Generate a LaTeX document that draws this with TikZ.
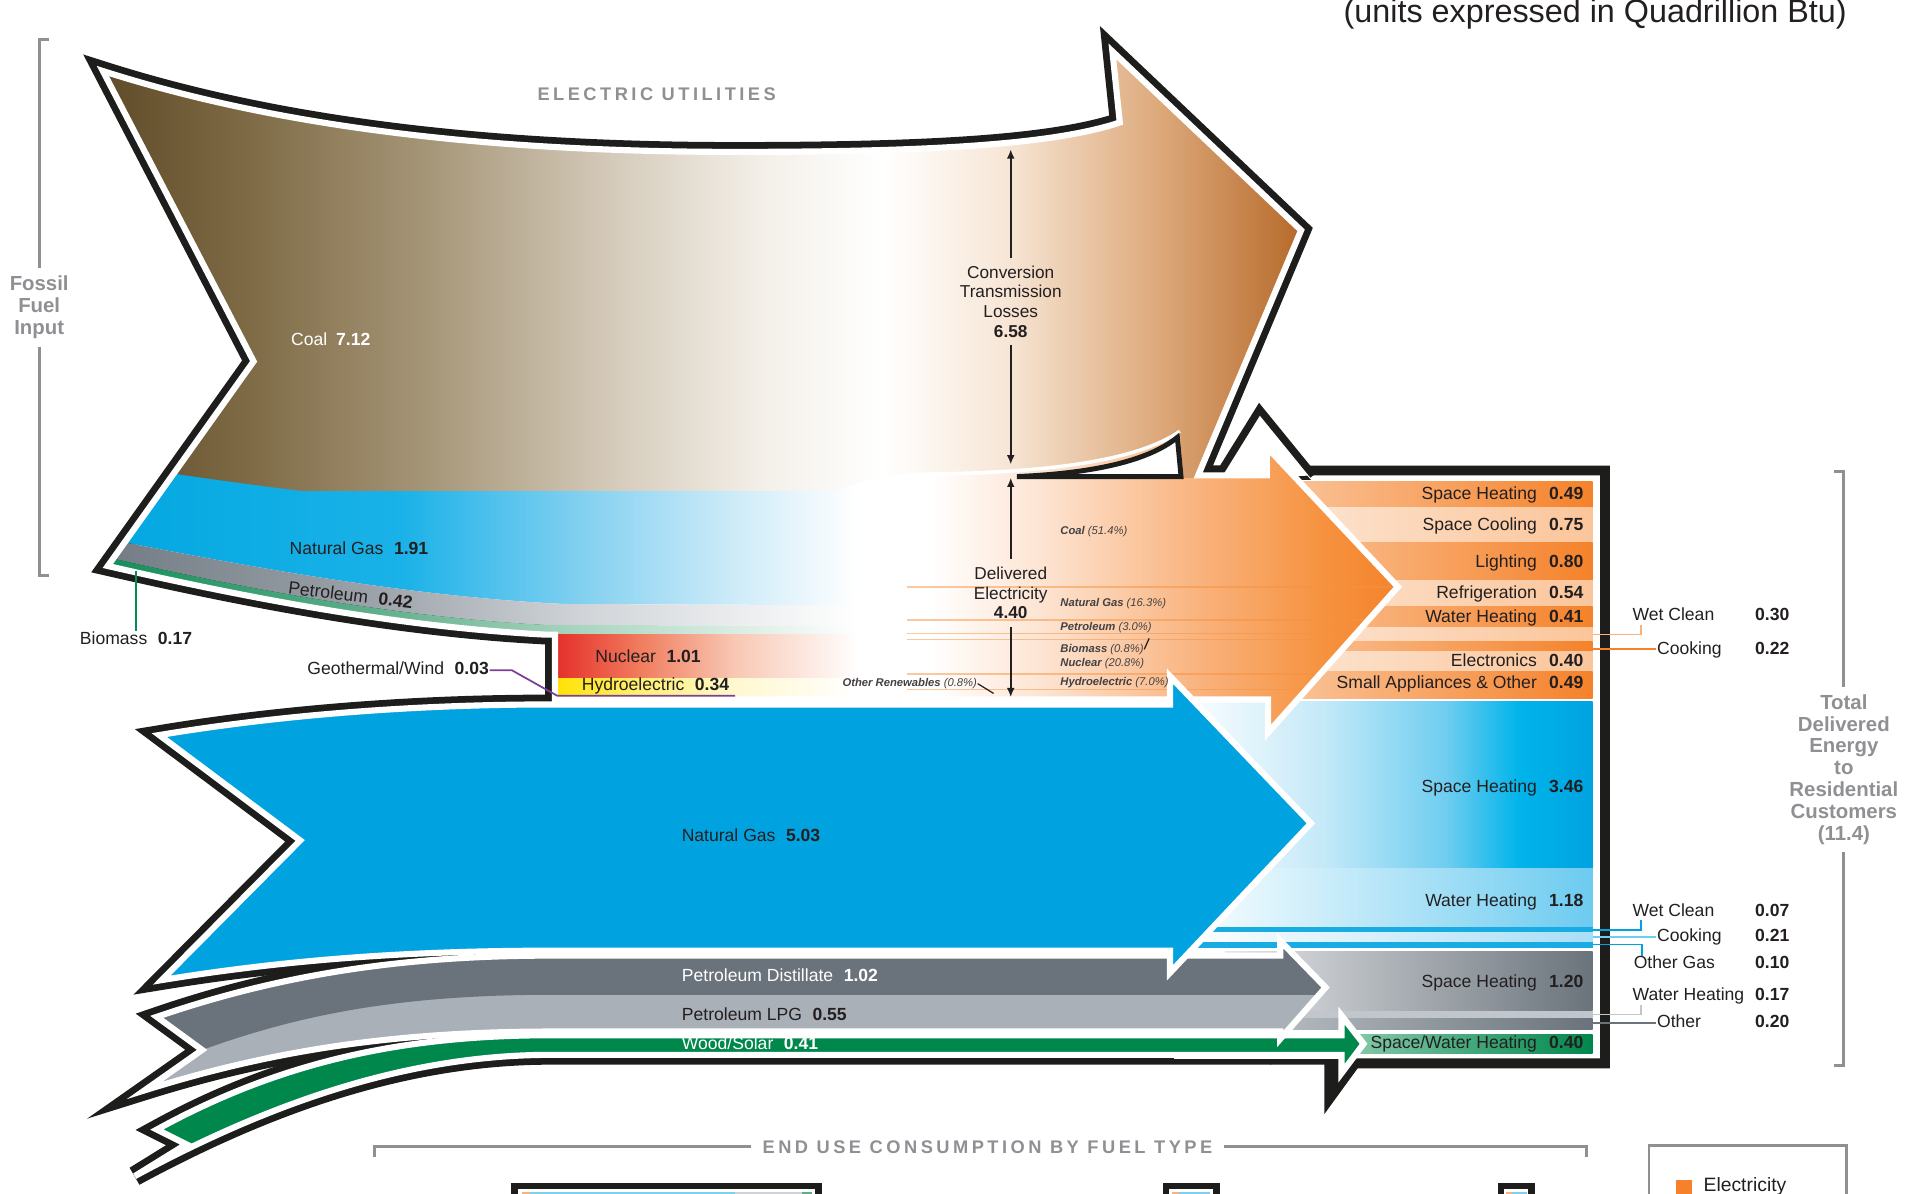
\documentclass[tikz,border=0pt]{standalone}
\usepackage{fontspec}
\setmainfont{Liberation Sans}
\newfontfamily\trackedsans[LetterSpace=19]{Liberation Sans}
\usetikzlibrary{arrows.meta}

\definecolor{ink}{HTML}{231F20}
\definecolor{rulegray}{HTML}{8E9093}
\definecolor{outline}{HTML}{1D1D1B}
\definecolor{coalA}{HTML}{5A4522}
\definecolor{coalB}{HTML}{7E6A45}
\definecolor{coalC}{HTML}{A69678}
\definecolor{coalD}{HTML}{D5CBBB}
\definecolor{coalE}{HTML}{F3EFE8}
\definecolor{coalF}{HTML}{F7E6D6}
\definecolor{coalG}{HTML}{DCA778}
\definecolor{coalH}{HTML}{B0601E}
\definecolor{gasA}{HTML}{00A6E0}
\definecolor{gasB}{HTML}{1AB2E8}
\definecolor{gasC}{HTML}{7FCFF0}
\definecolor{gasD}{HTML}{CDEBF8}
\definecolor{petA}{HTML}{6E7780}
\definecolor{petB}{HTML}{9BA2A9}
\definecolor{petC}{HTML}{CFD3D7}
\definecolor{bioA}{HTML}{0A8A55}
\definecolor{bioB}{HTML}{5FAE8A}
\definecolor{bioC}{HTML}{A8D4BF}
\definecolor{elcA}{HTML}{FDE4D2}
\definecolor{elcB}{HTML}{F9B27C}
\definecolor{elcC}{HTML}{F6923F}
\definecolor{elcD}{HTML}{F5822A}
\definecolor{nucA}{HTML}{E52E2A}
\definecolor{nucB}{HTML}{F07A5C}
\definecolor{nucC}{HTML}{F8C8B4}
\definecolor{hydA}{HTML}{FFE100}
\definecolor{hydB}{HTML}{FFF070}
\definecolor{hydC}{HTML}{FFF8D0}
\definecolor{skyA}{HTML}{C5E9F8}
\definecolor{skyB}{HTML}{6FCDF0}
\definecolor{skyC}{HTML}{00B4EA}
\definecolor{skyD}{HTML}{6CCBF0}
\definecolor{skyE}{HTML}{A9DEF5}
\definecolor{gasbig}{HTML}{00A3E0}
\definecolor{distil}{HTML}{6A737B}
\definecolor{lpg}{HTML}{A9B0B7}
\definecolor{grayL}{HTML}{E4E6E9}
\definecolor{grayM}{HTML}{C0C6CB}
\definecolor{wood}{HTML}{00874C}
\definecolor{woodL}{HTML}{8FCDB0}
\definecolor{colDL}{HTML}{FBD0AE}
\definecolor{colLL}{HTML}{FDEBDC}
\definecolor{colLR}{HTML}{FBC59A}
\definecolor{geo}{HTML}{7B3F98}

\pgfdeclarehorizontalshading{coalshade}{100bp}{color(0bp)=(coalA); color(25bp)=(coalA); color(31.9bp)=(coalB); color(39.2bp)=(coalC); color(46.6bp)=(coalD); color(52.5bp)=(coalE); color(57.4bp)=(white); color(62.3bp)=(coalF); color(68.6bp)=(coalG); color(75bp)=(coalH); color(100bp)=(coalH)}
\pgfdeclarehorizontalshading{gasshade}{100bp}{color(0bp)=(gasA); color(25bp)=(gasA); color(46bp)=(gasB); color(57bp)=(gasC); color(67bp)=(gasD); color(75bp)=(white); color(100bp)=(white)}
\pgfdeclarehorizontalshading{petshade}{100bp}{color(0bp)=(petA); color(25bp)=(petA); color(44bp)=(petB); color(57bp)=(petC); color(75bp)=(white); color(100bp)=(white)}
\pgfdeclarehorizontalshading{bioshade}{100bp}{color(0bp)=(bioA); color(25bp)=(bioA); color(44bp)=(bioB); color(57bp)=(bioC); color(75bp)=(white); color(100bp)=(white)}
\pgfdeclarehorizontalshading{elcshade}{100bp}{color(0bp)=(white); color(25bp)=(white); color(31.7bp)=(white); color(41.9bp)=(elcA); color(56.5bp)=(elcB); color(67.7bp)=(elcC); color(75bp)=(elcD); color(100bp)=(elcD)}
\pgfdeclarehorizontalshading{nucshade}{100bp}{color(0bp)=(nucA); color(25bp)=(nucA); color(38.6bp)=(nucB); color(54.8bp)=(nucC); color(75bp)=(white); color(100bp)=(white)}
\pgfdeclarehorizontalshading{hydshade}{100bp}{color(0bp)=(hydA); color(25bp)=(hydA); color(38.6bp)=(hydB); color(54.8bp)=(hydC); color(75bp)=(white); color(100bp)=(white)}
\pgfdeclarehorizontalshading{sheatshade}{100bp}{color(0bp)=(white); color(25bp)=(white); color(42.6bp)=(skyA); color(57.4bp)=(skyB); color(66.2bp)=(skyC); color(75bp)=(gasbig); color(100bp)=(gasbig)}

\tikzset{
  lbl/.style={font=\fontsize{5}{6}\selectfont, text=ink, inner sep=0pt, text height=3.6pt, text depth=0.9pt},
  uselbl/.style={lbl, anchor=east},
  sidelbl/.style={lbl, anchor=west},
  share/.style={font=\fontsize{3.2}{3.6}\selectfont\itshape, text=ink!85, inner sep=0pt, anchor=west},
  midtext/.style={font=\fontsize{4.9}{5.6}\selectfont, text=ink, align=center, inner sep=2pt},
  sidehead/.style={font=\fontsize{5.8}{6.2}\selectfont\bfseries, text=rulegray, align=center, inner sep=2pt},
  tracked/.style={font=\fontsize{5.2}{6}\selectfont\trackedsans\bfseries, text=rulegray, inner sep=3pt},
  bracket/.style={draw=rulegray, line width=0.8pt},
  blackline/.style={draw=outline, line width=5.6pt, line join=miter},
  whiteline/.style={draw=white, line width=1.75pt, line join=miter},
  leader/.style={line width=0.5pt},
  measure/.style={draw=ink, line width=0.45pt, -{Latex[length=2.6pt,width=2.2pt]}},
  share line/.style={elcC, opacity=0.5, line width=0.42pt},
  ordark/.style={left color=colDL, right color=elcD},
  orlight/.style={left color=colLL, right color=colLR},
}

\begin{document}
\begin{tikzpicture}[x=0.01225cm, y=-0.01225cm]
  \useasboundingbox (0,0) rectangle (1568,974);

  \def\upath{(84,58) .. controls (200,95) and (360,124) .. (600,124) .. controls (760,124) and (860,118) .. (914,100) -- (908,42) -- (1062,188) -- (978,388) -- (1034,388) -- (1034,365) -- (1141,479) -- (1035,598) -- (1035,571) -- (453,571) -- (453,518) -- (445,518) .. controls (330,512) and (210,490) .. (88,462) -- (207,295) -- cycle}
  \def\bpath{(130,600) .. controls (220,585) and (330,575) .. (450,575) -- (955,575) -- (955,552) -- (1070,672) -- (955,794) -- (955,776) -- (450,776) .. controls (330,776) and (230,784) .. (132,800) -- (245,686) -- cycle}
  \def\gpath{(128,830) .. controls (230,795) and (330,780) .. (450,780) -- (1045,780) -- (1045,768) -- (1082,806) -- (1045,848) -- (1045,842) -- (450,842) .. controls (320,842) and (220,858) .. (118,890) -- (165,857) -- cycle}
  \def\wpath{(128,922) .. controls (230,866) and (330,845) .. (450,845) -- (1095,845) -- (1095,829) -- (1113,852) -- (1095,876) -- (1095,861) -- (450,861) .. controls (340,861) and (230,895) .. (110,960) -- (152,934) -- cycle}

  % outlines
  \draw[blackline] \upath;
  \draw[blackline] \wpath;
  \draw[blackline] \gpath;
  \draw[blackline] \bpath;

  % end use column
  \fill[white] (958,392) rectangle (1306,864);
  \shade[ordark]  (1000,393) rectangle (1300,414);
  \shade[orlight] (1000,414) rectangle (1300,443);
  \shade[ordark]  (1000,443) rectangle (1300,474);
  \shade[orlight] (1000,474) rectangle (1300,495);
  \shade[ordark]  (1000,495) rectangle (1300,512);
  \shade[orlight] (1000,512) rectangle (1300,524);
  \shade[ordark]  (1000,524) rectangle (1300,532);
  \shade[orlight] (1000,532) rectangle (1300,548);
  \shade[ordark]  (1000,548) rectangle (1300,570);
  \shade[shading=sheatshade] (960,573) rectangle (1300,709);
  \shade[left color=white, right color=skyD] (960,709) rectangle (1300,757);
  \fill[gasbig!90] (960,757) rectangle (1300,761);
  \shade[left color=white, right color=skyE] (960,761) rectangle (1300,769);
  \fill[gasbig!90] (960,769) rectangle (1300,774);
  \shade[left color=grayL, right color=distil] (1000,777) rectangle (1300,825);
  \fill[grayM] (1000,825) rectangle (1300,831);
  \shade[left color=grayM, right color=distil] (1000,831) rectangle (1300,840);
  \shade[left color=woodL, right color=wood] (1090,844) rectangle (1300,860);

  \filldraw[fill=white, draw=outline, line width=2.1pt, line join=miter] (992,392) -- (1028,334) -- (1072,388);
  \draw[outline, line width=2.8pt, line join=miter] (1068,384) -- (1310,384) -- (1310,868) -- (1106,868) -- (1085,897) -- (1085,866);

  % electric utilities
  \begin{scope}
    \clip \upath;
    \shade[shading=elcshade] (700,330) rectangle (1145,610);
    \begin{scope}
      \clip (40,360) -- (700,360) -- (700,494) -- (460,493) .. controls (340,487) and (220,466) .. (88,440) -- (40,428) -- cycle;
      \shade[shading=gasshade] (60,300) rectangle (700,520);
    \end{scope}
    \begin{scope}
      \clip (700,494) -- (460,493) .. controls (340,487) and (220,466) .. (88,440) -- (40,428) -- (40,456) -- (88,455) .. controls (210,483) and (330,504) .. (445,510) -- (700,511) -- cycle;
      \shade[shading=petshade] (60,400) rectangle (700,530);
    \end{scope}
    \begin{scope}
      \clip (40,456) -- (88,455) .. controls (210,483) and (330,504) .. (445,510) -- (700,511) -- (700,518) -- (453,518) -- (445,530) -- (40,530) -- cycle;
      \shade[shading=bioshade] (60,400) rectangle (700,530);
    \end{scope}
    \shade[shading=nucshade] (453,518) rectangle (700,554);
    \shade[shading=hydshade] (453,554) rectangle (700,571);
    \begin{scope}
      \clip (40,0) -- (1200,0) -- (1200,362) -- (990,362) -- (990,390) -- (966,390) -- (963,352) .. controls (930,375) and (860,387) .. (740,387) .. controls (690,390) and (650,420) .. (580,425) .. controls (420,425) and (220,400) .. (60,374) -- (40,374) -- cycle;
      \shade[shading=coalshade] (60,0) rectangle (1080,400);
    \end{scope}
    \draw[share line] (740,479) -- (1150,479);
    \draw[share line] (740,506) -- (1150,506);
    \draw[share line] (740,517) -- (1150,517);
    \draw[share line] (740,522) -- (1150,522);
    \draw[share line] (740,550) -- (1150,550);
    \draw[share line] (740,563) -- (1150,563);
  \end{scope}
  \draw[whiteline] \upath;
  \draw[white, line width=1pt] (740,387) .. controls (860,387) and (930,375) .. (963,352);
  \filldraw[fill=white, draw=outline, line width=1.4pt, line join=miter] (830,389) .. controls (900,386) and (940,374) .. (961,357) -- (964,389) -- cycle;

  % direct fuels
  \fill[wood] \wpath;
  \draw[whiteline] \wpath;
  \fill[lpg] \gpath;
  \begin{scope}
    \clip \gpath;
    \fill[distil] (80,700) -- (1100,700) -- (1100,812) -- (450,812) .. controls (320,812) and (240,830) .. (165,857) -- (80,857) -- cycle;
  \end{scope}
  \draw[whiteline] \gpath;
  \fill[gasbig] \bpath;
  \draw[whiteline] \bpath;

  % losses and delivered
  \node[midtext] (loss) at (825,246) {Conversion\\Transmission\\Losses\\\textbf{6.58}};
  \coordinate (lossTop) at (825,122);
  \coordinate (lossBot) at (825,379);
  \draw[measure] (loss.north) -- (lossTop);
  \draw[measure] (loss.south) -- (lossBot);
  \node[midtext] (deliv) at (825,484) {Delivered\\Electricity\\\textbf{4.40}};
  \coordinate (delivTop) at (825,390);
  \coordinate (delivBot) at (825,569);
  \draw[measure] (deliv.north) -- (delivTop);
  \draw[measure] (deliv.south) -- (delivBot);

  \node[share] (sCoal) at (865,434) {\textbf{Coal} (51.4\%)};
  \node[share] (sGas) at (865,493) {\textbf{Natural Gas} (16.3\%)};
  \node[share] (sPet) at (865,512) {\textbf{Petroleum} (3.0\%)};
  \node[share] (sBio) at (865,530) {\textbf{Biomass} (0.8\%)};
  \node[share] (sNuc) at (865,542) {\textbf{Nuclear} (20.8\%)};
  \node[share] (sHyd) at (865,557) {\textbf{Hydroelectric} (7.0\%)};
  \node[share, anchor=east] (sRen) at (798,558) {\textbf{Other Renewables} (0.8\%)};
  \coordinate (sBioTip) at (938,521);
  \coordinate (sRenTip) at (811,566);
  \draw[ink, line width=0.35pt] (sBio.east) -- (sBioTip);
  \draw[ink, line width=0.35pt] (sRen.east) -- (sRenTip);

  % fuel labels
  \node[tracked] (utilities) at (536,77) {ELECTRIC UTILITIES};
  \node[lbl, text=white] (coal) at (270,278) {Coal\hspace{0.5em}\textbf{7.12}};
  \node[lbl] (gas1) at (293,449) {Natural Gas\hspace{0.6em}\textbf{1.91}};
  \node[lbl, rotate=-7] (pet1) at (286,487) {Petroleum\hspace{0.6em}\textbf{0.42}};
  \node[lbl] (bio1) at (111,522) {Biomass\hspace{0.6em}\textbf{0.17}};
  \node[lbl] (geo1) at (325,547) {Geothermal/Wind\hspace{0.6em}\textbf{0.03}};
  \node[lbl] (nuc1) at (529,537) {Nuclear\hspace{0.6em}\textbf{1.01}};
  \node[lbl] (hyd1) at (535,560) {Hydroelectric\hspace{0.6em}\textbf{0.34}};
  \node[lbl] (gas2) at (613,683) {Natural Gas\hspace{0.6em}\textbf{5.03}};
  \node[lbl, anchor=west, text=white] (dist1) at (556,797) {Petroleum Distillate\hspace{0.6em}\textbf{1.02}};
  \node[lbl, anchor=west] (lpg1) at (556,829) {Petroleum LPG\hspace{0.6em}\textbf{0.55}};
  \node[lbl, anchor=west, text=white] (wood1) at (556,853) {Wood/Solar\hspace{0.6em}\textbf{0.41}};

  \coordinate (bioFoot) at (111,466);
  \draw[bioA, line width=0.6pt] (bioFoot) -- (bio1.north);
  \coordinate (geoBend) at (455,568);
  \coordinate (geoEnd) at (600,568);
  \draw[geo, line width=0.5pt] (geo1.east) -- ++(18,0) -- (geoBend) -- (geoEnd);

  % end uses
  \node[uselbl] (shE) at (1293,404) {Space Heating\hspace{0.7em}\textbf{0.49}};
  \node[uselbl] (scE) at (1293,429) {Space Cooling\hspace{0.7em}\textbf{0.75}};
  \node[uselbl] (liE) at (1293,459) {Lighting\hspace{0.7em}\textbf{0.80}};
  \node[uselbl] (reE) at (1293,485) {Refrigeration\hspace{0.7em}\textbf{0.54}};
  \node[uselbl] (whE) at (1293,504) {Water Heating\hspace{0.7em}\textbf{0.41}};
  \node[uselbl] (elE) at (1293,540) {Electronics\hspace{0.7em}\textbf{0.40}};
  \node[uselbl] (saE) at (1293,558) {Small Appliances \& Other\hspace{0.7em}\textbf{0.49}};
  \node[uselbl] (shG) at (1293,643) {Space Heating\hspace{0.7em}\textbf{3.46}};
  \node[uselbl] (whG) at (1293,736) {Water Heating\hspace{0.7em}\textbf{1.18}};
  \node[uselbl] (shP) at (1293,802) {Space Heating\hspace{0.7em}\textbf{1.20}};
  \node[uselbl] (swW) at (1293,852) {Space/Water Heating\hspace{0.7em}\textbf{0.40}};

  \node[sidelbl] (wcE) at (1332,503) {Wet Clean};
  \node[sidelbl] (wcEv) at (1432,503) {\textbf{0.30}};
  \node[sidelbl] (ckE) at (1352,530) {Cooking};
  \node[sidelbl] (ckEv) at (1432,530) {\textbf{0.22}};
  \node[sidelbl] (wcG) at (1332,744) {Wet Clean};
  \node[sidelbl] (wcGv) at (1432,744) {\textbf{0.07}};
  \node[sidelbl] (ckG) at (1352,765) {Cooking};
  \node[sidelbl] (ckGv) at (1432,765) {\textbf{0.21}};
  \node[sidelbl] (ogG) at (1333,787) {Other Gas};
  \node[sidelbl] (ogGv) at (1432,787) {\textbf{0.10}};
  \node[sidelbl] (whP) at (1332,813) {Water Heating};
  \node[sidelbl] (whPv) at (1432,813) {\textbf{0.17}};
  \node[sidelbl] (otP) at (1352,835) {Other};
  \node[sidelbl] (otPv) at (1432,835) {\textbf{0.20}};

  \coordinate (wcEa) at (1300,518);
  \coordinate (ckEa) at (1300,530);
  \coordinate (wcGa) at (1300,759);
  \coordinate (ckGa) at (1300,765);
  \coordinate (ogGa) at (1300,771);
  \coordinate (whPa) at (1300,828);
  \coordinate (otPa) at (1300,835);
  \draw[leader, elcB] (wcEa) -| ([xshift=2.5pt]wcE.south west);
  \draw[leader, elcD] (ckEa) -- (ckE.west);
  \draw[leader, gasbig] (wcGa) -| ([xshift=2.5pt]wcG.south west);
  \draw[leader, skyB] (ckGa) -- (ckG.west);
  \draw[leader, gasbig] (ogGa) -| ([xshift=2.5pt]ogG.north west);
  \draw[leader, grayM] (whPa) -| ([xshift=2.5pt]whP.south west);
  \draw[leader, distil] (otPa) -- (otP.west);

  % brackets
  \node[sidehead] (fossil) at (32,251) {Fossil\\Fuel\\Input};
  \coordinate (fossilTop) at (32,32);
  \coordinate (fossilBot) at (32,470);
  \draw[bracket] (fossil.north) -- (fossilTop) -- ++(8,0);
  \draw[bracket] (fossil.south) -- (fossilBot) -- ++(8,0);

  \node[sidehead] (total) at (1505,628) {Total\\Delivered\\Energy\\to\\Residential\\Customers\\(11.4)};
  \coordinate (totalTop) at (1505,385);
  \coordinate (totalBot) at (1505,870);
  \draw[bracket] (total.north) -- (totalTop) -- ++(-8,0);
  \draw[bracket] (total.south) -- (totalBot) -- ++(-8,0);

  \node[font=\fontsize{9.2}{11}\selectfont, text=ink, anchor=base east, inner sep=0pt] (units) at (1508,18) {(units expressed in Quadrillion Btu)};

  % end use by fuel type
  \node[tracked] (enduse) at (806,936) {END USE CONSUMPTION BY FUEL TYPE};
  \coordinate (enduseL) at (306,936);
  \coordinate (enduseR) at (1295,936);
  \draw[bracket] (enduse.west) -- (enduseL) -- ++(0,8);
  \draw[bracket] (enduse.east) -- (enduseR) -- ++(0,8);

  \draw[outline, line width=1.8pt] (420,968) rectangle (668,1010);
  \fill[elcB] (426,973) rectangle (433,995);
  \fill[gasC] (433,973) rectangle (600,995);
  \fill[petC] (600,973) rectangle (655,995);
  \fill[bioB] (655,973) rectangle (663,995);
  \draw[outline, line width=1.8pt] (952,968) rectangle (993,1010);
  \fill[elcB] (957,973) rectangle (962,995);
  \fill[gasC] (962,973) rectangle (988,995);
  \draw[outline, line width=1.8pt] (1225,968) rectangle (1250,1010);
  \fill[elcB] (1229,973) rectangle (1234,995);
  \fill[gasC] (1234,973) rectangle (1246,995);

  \draw[bracket] (1346,990) -- (1346,935) -- (1507,935) -- (1507,990);
  \fill[elcD] (1368,963) rectangle (1381,976);
  \node[sidelbl, font=\fontsize{5.5}{6}\selectfont] (legElc) at (1390,969) {Electricity};
\end{tikzpicture}
\end{document}
